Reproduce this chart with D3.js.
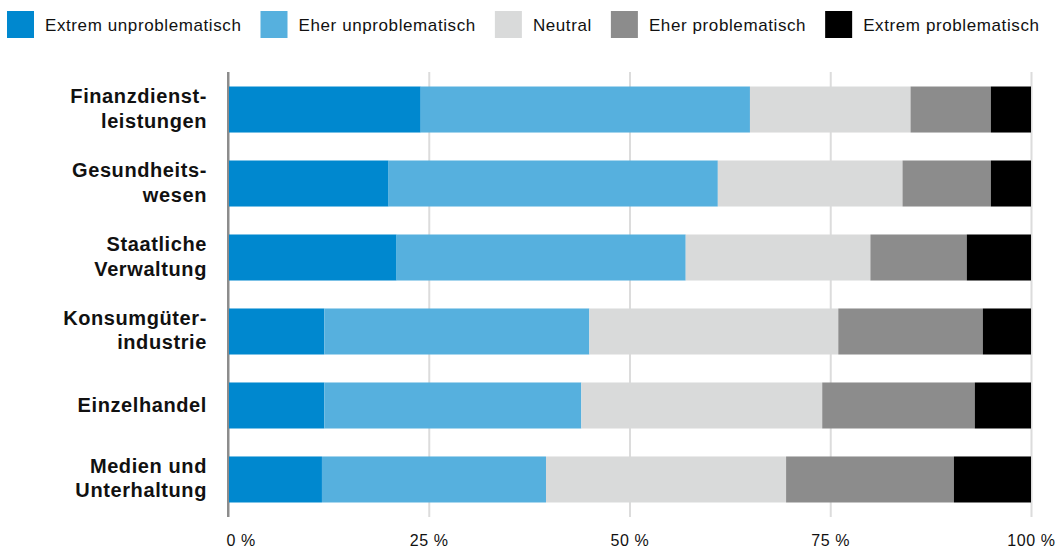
<!DOCTYPE html>
<html>
<head>
<meta charset="utf-8">
<script src="https://cdn.jsdelivr.net/npm/d3@7"></script>
<style>
  body { margin: 0; background: #fff; }
  text { font-family: "Liberation Sans", Arial, sans-serif; fill: #111; }
</style>
</head>
<body>
<svg id="chart"></svg>
<script>
// categories (line breaks as in the original labels)
let categories = [
    'Finanzdienst-\nleistungen',
    'Gesundheits-\nwesen',
    'Staatliche\nVerwaltung',
    'Konsumgüter-\nindustrie',
    'Einzelhandel',
    'Medien und\nUnterhaltung'
];

let seriesNames = [
    'Extrem unproblematisch',
    'Eher unproblematisch',
    'Neutral',
    'Eher problematisch',
    'Extrem problematisch'
];

// shares in %, one array per series, same order as categories
let extremUnproblematisch = [24, 20, 21, 12, 12, 11.7];
let eherUnproblematisch   = [41, 41, 36, 33, 32, 27.9];
let neutral               = [20, 23, 23, 31, 30, 29.9];
let eherProblematisch     = [10, 11, 12, 18, 19, 20.9];
let extremProblematisch   = [5, 5, 8, 6, 7, 9.6];

let xTicks = [0, 25, 50, 75, 100];

let colors = ['#0088cf', '#56b0de', '#d9dada', '#8c8c8c', '#000000'];

function drawChart () {
    let w = 1060;
    let h = 550;

    let svg = d3.select('#chart')
        .attr('width', w)
        .attr('height', h);

    let series = [extremUnproblematisch, eherUnproblematisch, neutral,
                  eherProblematisch, extremProblematisch];

    let rows = categories.map((c, i) => {
        let row = { cat: c };
        seriesNames.forEach((s, j) => { row[s] = series[j][i]; });
        return row;
    });

    let stacked = d3.stack().keys(seriesNames)(rows);

    let x = d3.scaleLinear().domain([0, 100]).range([228, 1031]);
    let y = d3.scaleBand()
        .domain(categories)
        .range([72, 517])
        .paddingInner(0.378)
        .paddingOuter(0.196);

    // grid + tick labels
    let xAxis = svg.append('g')
        .attr('class', 'x axis')
        .attr('transform', 'translate(0,517)')
        .call(d3.axisBottom(x)
            .tickValues(xTicks)
            .tickSize(-445)
            .tickFormat((d) => { return d + ' %'; }));

    xAxis.select('.domain').remove();
    xAxis.selectAll('.tick line')
        .attr('stroke', (d) => { return d === 0 ? '#8c8c8c' : '#dcdcdc'; })
        .attr('stroke-width', 2);
    xAxis.selectAll('.tick text')
        .attr('y', 29)
        .attr('dy', 0)
        .attr('font-size', 16)
        .attr('letter-spacing', 0.6)
        .attr('fill', '#111')
        .attr('text-anchor', (d) => { return d === 0 ? 'start' : 'middle'; })
        .attr('dx', (d) => { return d === 0 ? -2 : 0; });

    // bars
    let layers = svg.append('g').attr('class', 'bars')
        .selectAll('g.layer')
        .data(stacked)
        .enter()
        .append('g')
        .attr('class', 'layer')
        .attr('fill', (d, i) => { return colors[i]; });

    layers.selectAll('rect')
        .data((d) => { return d; })
        .enter()
        .append('rect')
        .attr('x', (d) => { return x(d[0]); })
        .attr('y', (d) => { return y(d.data.cat); })
        .attr('width', (d) => { return x(d[1]) - x(d[0]); })
        .attr('height', y.bandwidth());

    // axis line on top of bars
    svg.append('line')
        .attr('x1', x(0)).attr('x2', x(0))
        .attr('y1', 72).attr('y2', 517)
        .attr('stroke', '#8c8c8c')
        .attr('stroke-width', 2);

    // category labels
    let labels = svg.append('g').attr('class', 'y labels')
        .selectAll('text')
        .data(categories)
        .enter()
        .append('text')
        .attr('text-anchor', 'end')
        .attr('font-size', 20)
        .attr('font-weight', 'bold')
        .attr('letter-spacing', 0.6)
        .attr('fill', '#000');

    labels.each(function (d) {
        let lines = d.split('\n');
        let cy = y(d) + y.bandwidth() / 2;
        let first = lines.length > 1 ? cy - 6.5 : cy + 7;
        lines.forEach((l, i) => {
            d3.select(this).append('tspan')
                .attr('x', 207)
                .attr('y', first + i * 24.5)
                .text(l);
        });
    });

    // legend
    let legend = svg.append('g').attr('class', 'legend');
    let lx = 7;
    seriesNames.forEach((s, i) => {
        legend.append('rect')
            .attr('x', lx).attr('y', 11)
            .attr('width', 27).attr('height', 27)
            .attr('fill', colors[i]);
        let t = legend.append('text')
            .attr('x', lx + 38)
            .attr('y', 31)
            .attr('font-size', 17)
            .attr('letter-spacing', 0.6)
            .attr('fill', '#111')
            .text(s);
        lx = lx + 38 + t.node().getComputedTextLength() + 19;
    });
}

drawChart();
</script>
</body>
</html>
